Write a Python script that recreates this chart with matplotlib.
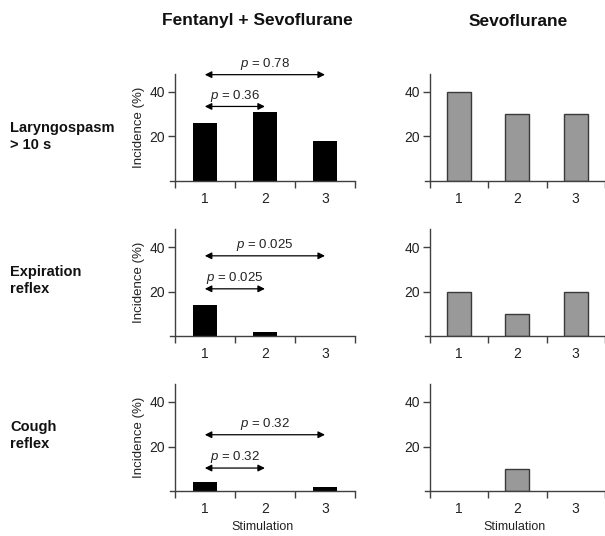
import matplotlib
matplotlib.use("Agg")
import matplotlib.pyplot as plt

plt.rcParams['font.family'] = ['Liberation Sans', 'DejaVu Sans']
plt.rcParams['mathtext.fontset'] = 'custom'
plt.rcParams['mathtext.it'] = 'Liberation Sans:italic'
plt.rcParams['mathtext.rm'] = 'Liberation Sans'

stim = [1, 2, 3]
col_titles = ["Fentanyl + Sevoflurane", "Sevoflurane"]
row_labels = ["Laryngospasm\n> 10 s", "Expiration\nreflex", "Cough\nreflex"]
fs_laryngo = [26, 31, 18]
fs_expir = [14, 2, 0]
fs_cough = [4, 0, 2]
sevo_laryngo = [40, 30, 30]
sevo_expir = [20, 10, 20]
sevo_cough = [0, 10, 0]
p_short = ["0.36", "0.025", "0.32"]   # stimulation 1 vs 2
p_long = ["0.78", "0.025", "0.32"]    # stimulation 1 vs 3
arrow_short_y = [33.4, 21.3, 10.4]
arrow_long_y = [47.7, 36.1, 25.3]

fs_data = [fs_laryngo, fs_expir, fs_cough]
sevo_data = [sevo_laryngo, sevo_expir, sevo_cough]

W, H = 605, 536
fig = plt.figure(figsize=(W / 100, H / 100), dpi=100)

rows_px = [(74, 180.7), (229.3, 336.3), (384, 491.3)]
cols_px = [(170, 355, 3.5), (425, 605, 3.45)]
spine_c = '#404040'
text_c = '#222222'

for r in range(3):
    top, bot = rows_px[r]
    for c in range(2):
        x0, x1, xmax = cols_px[c]
        ax = fig.add_axes([x0 / W, 1 - bot / H, (x1 - x0) / W, (bot - top) / H])
        vals = fs_data[r] if c == 0 else sevo_data[r]
        xs = [s for s, v in zip(stim, vals) if v > 0]
        vs = [v for v in vals if v > 0]
        if c == 0:
            ax.bar(xs, vs, width=0.41, color='black', linewidth=0)
        else:
            ax.bar(xs, vs, width=0.41, color='#999999', edgecolor='#3a3a3a', linewidth=1.0)
        ax.set_xlim(0.42, xmax)
        ax.set_ylim(0, 48)
        for s in ['top', 'right']:
            ax.spines[s].set_visible(False)
        ax.spines['left'].set_position(('data', 0.5))
        for s in ['left', 'bottom']:
            ax.spines[s].set_color(spine_c)
            ax.spines[s].set_linewidth(1.0)
        ax.set_yticks([20, 40])
        ax.set_yticklabels(["20", "40"])
        ax.set_xticks([0.5, 1.5, 2.5, 3.5])
        ax.set_xticklabels([])
        ax.set_xticks(stim, minor=True)
        ax.set_xticklabels([str(s) for s in stim], minor=True)
        ax.tick_params(axis='x', which='major', length=5, width=1.0, color=spine_c, direction='out')
        ax.tick_params(axis='x', which='minor', length=0, pad=8, labelsize=10, labelcolor=text_c)
        ax.tick_params(axis='y', length=5, width=1.0, color=spine_c, direction='out', labelsize=10,
                       labelcolor=text_c, pad=2)
        ax.patch.set_alpha(0)
        if c == 0:
            ax.set_ylabel("Incidence (%)", fontsize=9.5, color=text_c, labelpad=3)
            for (xa, xb, yv, pv) in [(1, 2, arrow_short_y[r], p_short[r]),
                                     (1, 3, arrow_long_y[r], p_long[r])]:
                ax.annotate("", xy=(xb, yv), xytext=(xa, yv),
                            arrowprops=dict(arrowstyle='<|-|>', color='black', lw=0.9,
                                            mutation_scale=10, shrinkA=0, shrinkB=0),
                            annotation_clip=False)
                ax.text((xa + xb) / 2, yv + 1.2, r"$\it{p}$ = " + pv, ha='center', va='bottom',
                        fontsize=9.5, color=text_c, clip_on=False)
        if r == 2:
            ax.set_xlabel("Stimulation", fontsize=9, color=text_c, labelpad=3)

fig.text(257 / W, 1 - 21 / H, col_titles[0], ha='center', va='center', fontsize=12.5,
         fontweight='bold', color='#111111')
fig.text(518 / W, 1 - 21 / H, col_titles[1], ha='center', va='center', fontsize=12.5,
         fontweight='bold', color='#111111')

row_label_y = [121, 265, 420]
for r in range(3):
    fig.text(10 / W, 1 - row_label_y[r] / H, row_labels[r], ha='left', va='top', fontsize=10.5,
             fontweight='bold', color='#111111', linespacing=1.3)

fig.savefig("out.png", dpi=100)
